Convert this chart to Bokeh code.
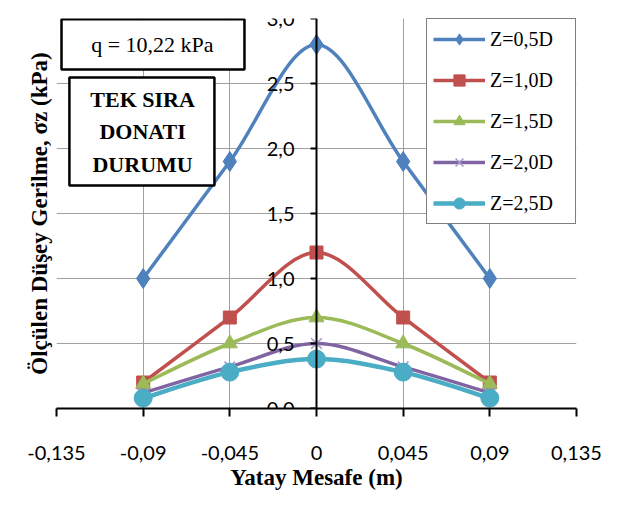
import numpy as np
from bokeh.plotting import figure
from bokeh.models import (FixedTicker, CustomJSTickFormatter, Legend, LegendItem,
                          Label, BoxAnnotation, Title)
from bokeh.embed import file_html
from bokeh.resources import INLINE

# ---------------- data ----------------
x_mesafe = [-0.09, -0.045, 0.0, 0.045, 0.09]
z05 = [1.0, 1.9, 2.8, 1.9, 1.0]
z10 = [0.2, 0.7, 1.2, 0.7, 0.2]
z15 = [0.19, 0.5, 0.7, 0.5, 0.19]
z20 = [0.12, 0.32, 0.5, 0.32, 0.12]
z25 = [0.08, 0.28, 0.38, 0.28, 0.08]
series_labels = ["Z=0,5D", "Z=1,0D", "Z=1,5D", "Z=2,0D", "Z=2,5D"]

x_ticks = [-0.135, -0.09, -0.045, 0.0, 0.045, 0.09, 0.135]
x_tick_labels = ["-0,135", "-0,09", "-0,045", "0", "0,045", "0,09", "0,135"]
y_ticks = [0.0, 0.5, 1.0, 1.5, 2.0, 2.5, 3.0]
y_tick_labels = ["0,0", "0,5", "1,0", "1,5", "2,0", "2,5", "3,0"]

# ---------------- styles ----------------
styles = [
    dict(color="#4F81BD", marker="diamond", size=20, mcolor="#4F81BD", lw=3.5, mlw=1),
    dict(color="#C0504D", marker="square", size=13, mcolor="#C0504D", lw=3.5, mlw=1),
    dict(color="#9BBB59", marker="triangle", size=15, mcolor="#9BBB59", lw=3.5, mlw=1),
    dict(color="#8064A2", marker="x", size=15, mcolor="#A396C8", lw=3.5, mlw=1.5),
    dict(color="#4BACC6", marker="circle", size=18, mcolor="#4BACC6", lw=4.5, mlw=1),
]

fmt_code = """
let best = 0;
for (let i = 0; i < tv.length; i++) {
  if (Math.abs(tv[i] - tick) < Math.abs(tv[best] - tick)) best = i;
}
return tl[best];
"""

p = figure(width=617, height=505, x_range=(-0.135, 0.135), y_range=(0, 3),
           output_backend="svg", toolbar_location=None,
           min_border_left=56, min_border_right=41, min_border_top=18, min_border_bottom=97,
           background_fill_color="white", border_fill_color="white", outline_line_color=None)

# axes
p.xaxis.ticker = FixedTicker(ticks=x_ticks)
p.xaxis.formatter = CustomJSTickFormatter(args=dict(tv=x_ticks, tl=x_tick_labels), code=fmt_code)
p.yaxis.ticker = FixedTicker(ticks=y_ticks)
p.yaxis.formatter = CustomJSTickFormatter(args=dict(tv=y_ticks, tl=y_tick_labels), code=fmt_code)
p.yaxis.fixed_location = 0

for ax in (p.xaxis, p.yaxis):
    ax.axis_line_color = "black"
    ax.axis_line_width = 2
    ax.major_tick_line_color = "black"
    ax.major_tick_line_width = 2
    ax.major_tick_in = 0
    ax.minor_tick_in = 0
    ax.minor_tick_out = 0
    ax.major_label_text_font = "Lato"
    ax.major_label_text_font_size = "20px"
    ax.major_label_text_color = "black"
p.xaxis.major_tick_out = 8
p.yaxis.major_tick_out = 6
p.xaxis.major_label_standoff = 29
p.yaxis.major_label_standoff = 16

p.xaxis.axis_label = "Yatay Mesafe (m)"
p.xaxis.axis_label_text_font = "Liberation Serif"
p.xaxis.axis_label_text_font_style = "bold"
p.xaxis.axis_label_text_font_size = "23px"
p.xaxis.axis_label_text_color = "black"
p.xaxis.axis_label_standoff = 2

p.add_layout(Title(text="Ölçülen Düşey Gerilme, σz (kPa)", align="center",
                   text_font="Liberation Serif", text_font_style="bold",
                   text_font_size="23px", text_color="black"), "left")

p.grid.grid_line_color = "#A0A0A0"
p.grid.grid_line_width = 1
p.xgrid.ticker = FixedTicker(ticks=x_ticks)
p.ygrid.ticker = FixedTicker(ticks=y_ticks)


def bezier_parts(xs, ys):
    xs = np.asarray(xs, float)
    ys = np.asarray(ys, float)
    n = len(xs)
    out = {k: [] for k in ("x0", "y0", "x1", "y1", "cx0", "cy0", "cx1", "cy1")}
    for i in range(n - 1):
        ip = max(i - 1, 0)
        inn = min(i + 2, n - 1)
        out["x0"].append(xs[i]); out["y0"].append(ys[i])
        out["x1"].append(xs[i + 1]); out["y1"].append(ys[i + 1])
        out["cx0"].append(xs[i] + (xs[i + 1] - xs[ip]) / 6)
        out["cy0"].append(ys[i] + (ys[i + 1] - ys[ip]) / 6)
        out["cx1"].append(xs[i + 1] - (xs[inn] - xs[i]) / 6)
        out["cy1"].append(ys[i + 1] - (ys[inn] - ys[i]) / 6)
    return out


items = []
for vals, lab, st in zip([z05, z10, z15, z20, z25], series_labels, styles):
    bz = bezier_parts(x_mesafe, vals)
    r_line = p.bezier(x0=bz["x0"], y0=bz["y0"], x1=bz["x1"], y1=bz["y1"],
                      cx0=bz["cx0"], cy0=bz["cy0"], cx1=bz["cx1"], cy1=bz["cy1"],
                      line_color=st["color"], line_width=st["lw"])
    r_mark = p.scatter(x_mesafe, vals, marker=st["marker"], size=st["size"],
                       fill_color=st["mcolor"], line_color=st["mcolor"], line_width=st["mlw"])
    items.append(LegendItem(label=lab, renderers=[r_line, r_mark]))

legend = Legend(items=items, location="top_right", margin=0, padding=6, spacing=13,
                glyph_width=52, glyph_height=28, label_height=28, label_width=79,
                label_standoff=5, border_line_color="black", border_line_width=1,
                label_text_font="Liberation Serif", label_text_font_size="20px",
                label_text_color="black", background_fill_color="white", background_fill_alpha=1)
p.add_layout(legend)

# text boxes
p.add_layout(BoxAnnotation(left=-0.1324, right=-0.0374, bottom=2.608, top=2.995,
                           fill_color="white", fill_alpha=1, line_color="black",
                           line_alpha=1, line_width=2.5))
p.add_layout(Label(x=-0.0852, y=2.80, text="q = 10,22 kPa", text_align="center",
                   text_baseline="middle", text_font="Liberation Serif",
                   text_font_size="22px", text_color="black"))
p.add_layout(BoxAnnotation(left=-0.1283, right=-0.0530, bottom=1.715, top=2.546,
                           fill_color="white", fill_alpha=1, line_color="black",
                           line_alpha=1, line_width=2.5))
p.add_layout(Label(x=-0.0903, y=2.13, text="TEK SIRA\nDONATI\nDURUMU", text_align="center",
                   text_baseline="middle", text_font="Liberation Serif", text_font_style="bold",
                   text_font_size="22px", text_color="black", text_line_height=1.3))

open("out.html", "w").write(file_html(p, INLINE))
